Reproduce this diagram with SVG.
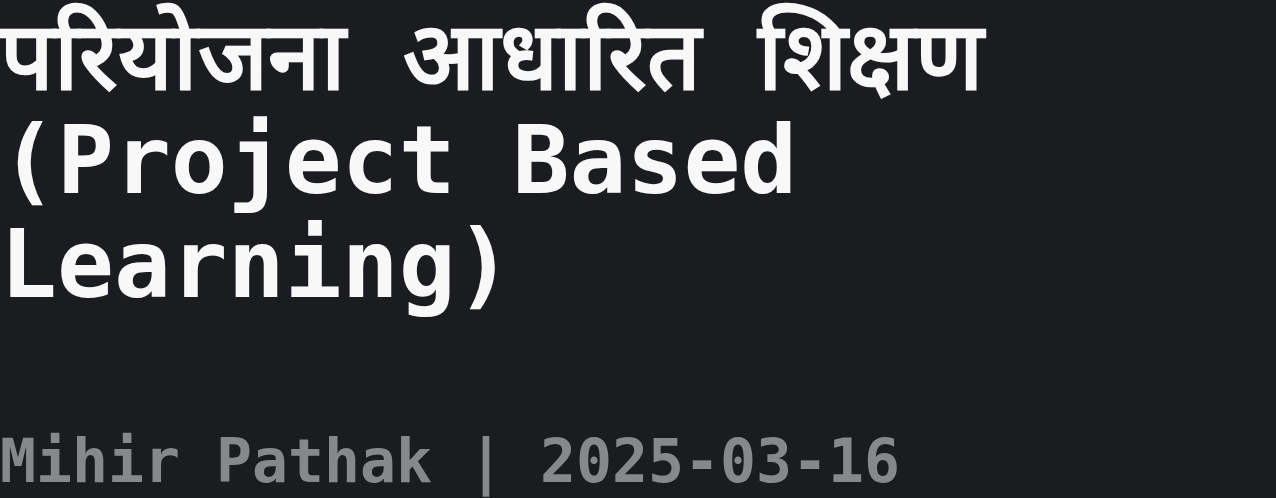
<svg xmlns="http://www.w3.org/2000/svg" width="1276" height="498" viewBox="0 0 1276 498">
<style>
.title{font-family:"DejaVu Sans Mono","Liberation Mono",monospace;font-weight:bold;font-size:94.6px;fill:#f8f8f8}
.author{font-family:"DejaVu Sans Mono","Liberation Mono",monospace;font-weight:bold;font-size:59.8px;fill:#87888c}
</style>
<rect width="1276" height="498" fill="#1b1c20"/>
<g id="title">
<text class="title" x="0" y="89">परियोजना आधारित शिक्षण</text>
<text class="title" x="0" y="193">(Project Based</text>
<text class="title" x="0" y="297">Learning)</text>
</g>
<g id="author">
<text class="author" x="0" y="482">Mihir Pathak | 2025-03-16</text>
</g>
</svg>
